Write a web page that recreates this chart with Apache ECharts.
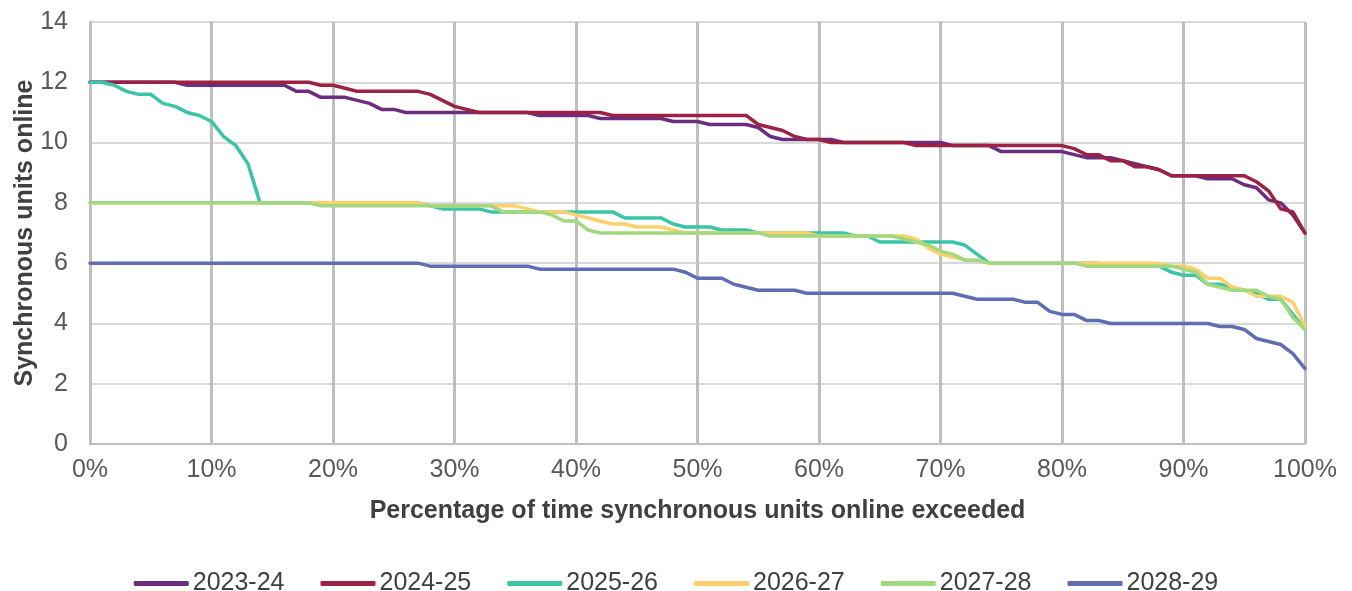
<!DOCTYPE html>
<html>
<head>
<meta charset="utf-8">
<script src="https://cdn.jsdelivr.net/npm/echarts@6/dist/echarts.min.js"></script>
<style>
html,body{margin:0;padding:0;background:#fff;}
#chart{width:1352px;height:591px;}
</style>
</head>
<body>
<div id="chart"></div>
<script>
const seriesNames = ['2023-24','2024-25','2025-26','2026-27','2027-28','2028-29'];
const xTicks = ['0%','10%','20%','30%','40%','50%','60%','70%','80%','90%','100%'];
const yTicks = [0,2,4,6,8,10,12,14];

const s2023 = [12,12,12,12,12,12,12,12,11.9,11.9,
 11.9,11.9,11.9,11.9,11.9,11.9,11.9,11.7,11.7,11.5,
 11.5,11.5,11.4,11.3,11.1,11.1,11,11,11,11,
 11,11,11,11,11,11,11,10.9,10.9,10.9,
 10.9,10.9,10.8,10.8,10.8,10.8,10.8,10.8,10.7,10.7,
 10.7,10.6,10.6,10.6,10.6,10.5,10.2,10.1,10.1,10.1,
 10.1,10.1,10,10,10,10,10,10,10,10,
 10,9.9,9.9,9.9,9.9,9.7,9.7,9.7,9.7,9.7,
 9.7,9.6,9.5,9.5,9.5,9.4,9.3,9.2,9.1,8.9,
 8.9,8.9,8.8,8.8,8.8,8.6,8.5,8.1,8.0,7.6,
 7.0];
const s2024 = [12,12,12,12,12,12,12,12,12,12,
 12,12,12,12,12,12,12,12,12,11.9,
 11.9,11.8,11.7,11.7,11.7,11.7,11.7,11.7,11.6,11.4,
 11.2,11.1,11,11,11,11,11,11,11,11,
 11,11,11,10.9,10.9,10.9,10.9,10.9,10.9,10.9,
 10.9,10.9,10.9,10.9,10.9,10.6,10.5,10.4,10.2,10.1,
 10.1,10,10,10,10,10,10,10,9.9,9.9,
 9.9,9.9,9.9,9.9,9.9,9.9,9.9,9.9,9.9,9.9,
 9.9,9.8,9.6,9.6,9.4,9.4,9.2,9.2,9.1,8.9,
 8.9,8.9,8.9,8.9,8.9,8.9,8.7,8.4,7.8,7.7,
 7.0];
const s2025 = [12,12,11.9,11.7,11.6,11.6,11.3,11.2,11.0,10.9,
 10.7,10.2,9.9,9.3,8,8,8,8,8,8,
 8,8,8,8,8,8,8,8,7.9,7.8,
 7.8,7.8,7.8,7.7,7.7,7.7,7.7,7.7,7.7,7.7,
 7.7,7.7,7.7,7.7,7.5,7.5,7.5,7.5,7.3,7.2,
 7.2,7.2,7.1,7.1,7.1,7,7,7,7,7,
 7,7,7,6.9,6.9,6.7,6.7,6.7,6.7,6.7,
 6.7,6.7,6.6,6.3,6,6,6,6,6,6,
 6,6,6,6,5.9,5.9,5.9,5.9,5.9,5.7,
 5.6,5.6,5.3,5.3,5.2,5.1,5.0,4.8,4.8,4.3,
 3.8];
const s2026 = [8,8,8,8,8,8,8,8,8,8,
 8,8,8,8,8,8,8,8,8,8,
 8,8,8,8,8,8,8,8,7.9,7.9,
 7.9,7.9,7.9,7.9,7.9,7.9,7.8,7.7,7.7,7.7,
 7.6,7.5,7.4,7.3,7.3,7.2,7.2,7.2,7.1,7,
 7,7,7,7,7,7,7,7,7,7,
 6.9,6.9,6.9,6.9,6.9,6.9,6.9,6.9,6.8,6.5,
 6.3,6.2,6.1,6.1,6,6,6,6,6,6,
 6,6,6,6,6,6,6,6,6,5.9,
 5.9,5.8,5.5,5.5,5.2,5.1,4.9,4.9,4.9,4.7,
 3.9];
const s2027 = [8,8,8,8,8,8,8,8,8,8,
 8,8,8,8,8,8,8,8,8,7.9,
 7.9,7.9,7.9,7.9,7.9,7.9,7.9,7.9,7.9,7.9,
 7.9,7.9,7.9,7.9,7.7,7.7,7.7,7.7,7.6,7.4,
 7.4,7.1,7,7,7,7,7,7,7,7,
 7,7,7,7,7,7,6.9,6.9,6.9,6.9,
 6.9,6.9,6.9,6.9,6.9,6.9,6.9,6.8,6.7,6.6,
 6.4,6.3,6.1,6.1,6,6,6,6,6,6,
 6,6,5.9,5.9,5.9,5.9,5.9,5.9,5.9,5.9,
 5.8,5.7,5.3,5.2,5.1,5.1,5.1,4.9,4.8,4.2,
 3.8];
const s2028 = [6,6,6,6,6,6,6,6,6,6,
 6,6,6,6,6,6,6,6,6,6,
 6,6,6,6,6,6,6,6,5.9,5.9,
 5.9,5.9,5.9,5.9,5.9,5.9,5.9,5.8,5.8,5.8,
 5.8,5.8,5.8,5.8,5.8,5.8,5.8,5.8,5.8,5.7,
 5.5,5.5,5.5,5.3,5.2,5.1,5.1,5.1,5.1,5.0,
 5,5,5,5,5,5,5,5,5,5,
 5,5,4.9,4.8,4.8,4.8,4.8,4.7,4.7,4.4,
 4.3,4.3,4.1,4.1,4,4,4,4,4,4,
 4,4,4,3.9,3.9,3.8,3.5,3.4,3.3,3.0,
 2.5];

const allSeries = [s2023, s2024, s2025, s2026, s2027, s2028];
const colors = ['#6C2D7E','#9D2144','#3CC4A6','#FDD06B','#A2D880','#5F6DB4'];

const FONT = '"Liberation Sans", Arial, sans-serif';
const chart = echarts.init(document.getElementById('chart'), null, {renderer:'canvas'});

chart.setOption({
  animation: false,
  backgroundColor: '#ffffff',
  color: colors,
  grid: {left: 90, right: 47, top: 22, bottom: 147, containLabel: false, outerBoundsMode: 'none'},
  legend: {
    data: seriesNames,
    left: 'center',
    top: 566,
    itemGap: 36,
    itemWidth: 55,
    itemHeight: 5,
    icon: 'roundRect',
    textStyle: {fontFamily: FONT, fontSize: 25, color: '#404040', padding: [0,0,0,-1]}
  },
  xAxis: {
    type: 'value',
    min: 0, max: 100, interval: 10,
    name: 'Percentage of time synchronous units online exceeded',
    nameLocation: 'middle',
    nameGap: 55,
    nameMoveOverlap: false,
    nameTextStyle: {fontFamily: FONT, fontSize: 25, fontWeight: 'bold', color: '#404040'},
    axisLine: {show: true, lineStyle: {color: '#BFBFBF', width: 2}},
    axisTick: {show: false},
    axisLabel: {
      fontFamily: FONT, fontSize: 25, color: '#595959', margin: 14,
      formatter: function (v) { return xTicks[Math.round(v / 10)]; }
    },
    splitLine: {show: true, lineStyle: {color: '#BFBFBF', width: 3}}
  },
  yAxis: {
    type: 'value',
    min: 0, max: 14, interval: 2,
    name: 'Synchronous units online',
    nameLocation: 'middle',
    nameGap: 52,
    nameMoveOverlap: false,
    nameTextStyle: {fontFamily: FONT, fontSize: 25, fontWeight: 'bold', color: '#404040'},
    axisLine: {show: true, lineStyle: {color: '#BFBFBF', width: 3}},
    axisTick: {show: false},
    axisLabel: {fontFamily: FONT, fontSize: 25, color: '#595959', margin: 22,
      formatter: function (v) { return String(yTicks[Math.round(v / 2)]); }},
    splitLine: {show: true, lineStyle: {color: '#D9D9D9', width: 2}}
  },
  series: allSeries.map(function (arr, k) {
    return {
      name: seriesNames[k],
      type: 'line',
      data: arr.map(function (v, i) { return [i, v]; }),
      showSymbol: false,
      symbol: 'none',
      lineStyle: {width: 3.5, color: colors[k], join: 'round', cap: 'round'},
      itemStyle: {color: colors[k]},
      z: 2 + k
    };
  })
});
</script>
</body>
</html>
